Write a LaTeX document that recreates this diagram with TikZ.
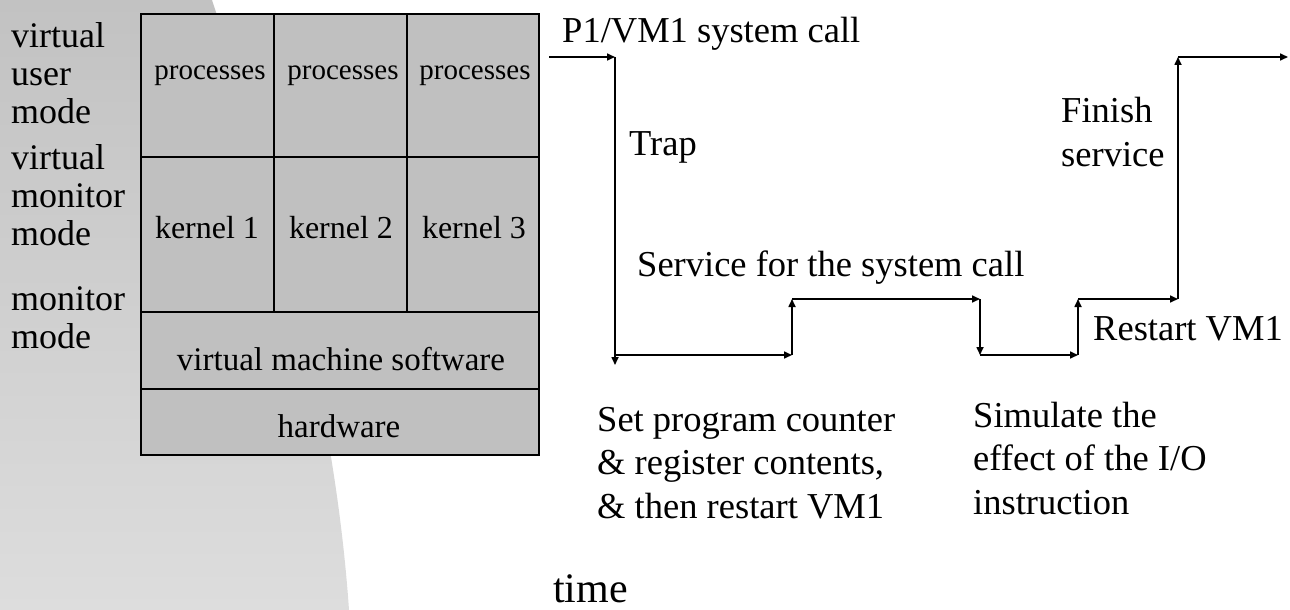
\documentclass[tikz,border=0pt]{standalone}
\usepackage{fontspec}
\setmainfont{Liberation Serif}
\usetikzlibrary{arrows.meta}

\definecolor{boxgray}{RGB}{192,192,192}
\definecolor{bgtop}{RGB}{194,194,194}
\definecolor{bgbottom}{RGB}{221,221,221}

\tikzset{
  cell/.style={draw=black, line width=1.6pt, fill=boxgray, inner sep=0pt, anchor=north west},
  % multi-line labels are placed by the baseline of their last line
  modelabel/.style={anchor=base west, inner sep=0pt, align=left,
    font=\fontsize{36}{38}\selectfont},
  celltext/.style={anchor=base, inner sep=0pt},
  note/.style={anchor=base west, inner sep=0pt, align=left,
    font=\fontsize{36.5}{43.5}\selectfont},
  flow/.style={line width=1.6pt, -{Triangle[length=8pt,width=7pt]}}
}

\begin{document}
\begin{tikzpicture}[x=1pt, y=-1pt]
  \useasboundingbox (0,0) rectangle (1290,610);

  % soft gray backdrop on the left
  \shade[top color=bgtop, bottom color=bgbottom]
    (0,0) -- (212,0) .. controls (279,203) and (335,407) .. (349,610) -- (0,610) -- cycle;

  % mode labels
  \node[modelabel] (lab1) at (11,123) {virtual\\user\\mode};
  \node[modelabel] (lab2) at (11,245) {virtual\\monitor\\mode};
  \node[modelabel] (lab3) at (11,348) {monitor\\mode};

  % layered virtual-machine stack
  \node[cell, minimum width=133pt, minimum height=143pt] (p1) at (140,13) {};
  \node[cell, minimum width=133pt, minimum height=143pt] (p2) at (273,13) {};
  \node[cell, minimum width=132pt, minimum height=143pt] (p3) at (406,13) {};
  \node[cell, minimum width=133pt, minimum height=155pt] (k1) at (140,156) {};
  \node[cell, minimum width=133pt, minimum height=155pt] (k2) at (273,156) {};
  \node[cell, minimum width=132pt, minimum height=155pt] (k3) at (406,156) {};
  \node[cell, minimum width=398pt, minimum height=77pt] (vms) at (140,311) {};
  \node[cell, minimum width=398pt, minimum height=66pt] (hw) at (140,388) {};

  \node[celltext, font=\fontsize{29}{32}\selectfont] (tp1) at (210,80) {processes};
  \node[celltext, font=\fontsize{29}{32}\selectfont] (tp2) at (343,80) {processes};
  \node[celltext, font=\fontsize{29}{32}\selectfont] (tp3) at (475,80) {processes};
  \node[celltext, font=\fontsize{32}{35}\selectfont] (tk1) at (207,238) {kernel 1};
  \node[celltext, font=\fontsize{32}{35}\selectfont] (tk2) at (341,238) {kernel 2};
  \node[celltext, font=\fontsize{32}{35}\selectfont] (tk3) at (474,238) {kernel 3};
  \node[celltext, font=\fontsize{33}{36}\selectfont] (tvms) at (341,370) {virtual machine software};
  \node[celltext, font=\fontsize{33}{36}\selectfont] (thw) at (339,437) {hardware};

  % timeline corners
  \coordinate (c0) at (549,57);
  \coordinate (c1) at (615,57);
  \coordinate (c2) at (615,365);
  \coordinate (c2b) at (615,355);
  \coordinate (c3) at (792,355);
  \coordinate (c4) at (792,299);
  \coordinate (c5) at (980,299);
  \coordinate (c6) at (980,355);
  \coordinate (c7) at (1078,355);
  \coordinate (c8) at (1078,299);
  \coordinate (c9) at (1178,299);
  \coordinate (c10) at (1178,57);
  \coordinate (c11) at (1288,57);

  \draw[flow] (c0) -- (c1);
  \draw[flow] (c1) -- (c2);
  \draw[flow] (c2b) -- (c3);
  \draw[flow] (c3) -- (c4);
  \draw[flow] (c4) -- (c5);
  \draw[flow] (c5) -- (c6);
  \draw[flow] (c6) -- (c7);
  \draw[flow] (c7) -- (c8);
  \draw[flow] (c8) -- (c9);
  \draw[flow] (c9) -- (c10);
  \draw[flow] (c10) -- (c11);

  % timeline annotations
  \node[note] (call)    at (562,43)   {P1/VM1 system call};
  \node[note] (trap)    at (629,155)  {Trap};
  \node[note] (service) at (637,276)  {Service for the system call};
  \node[note] (setpc)   at (597,518)  {Set program counter\\\& register contents,\\\& then restart VM1};
  \node[note] (sim)     at (973,514)  {Simulate the\\effect of the I/O\\instruction};
  \node[note] (finish)  at (1061,166) {Finish\\service};
  \node[note] (restart) at (1093,340) {Restart VM1};
  \node[note, font=\fontsize{42}{46}\selectfont] (time) at (553,602) {time};
\end{tikzpicture}
\end{document}
